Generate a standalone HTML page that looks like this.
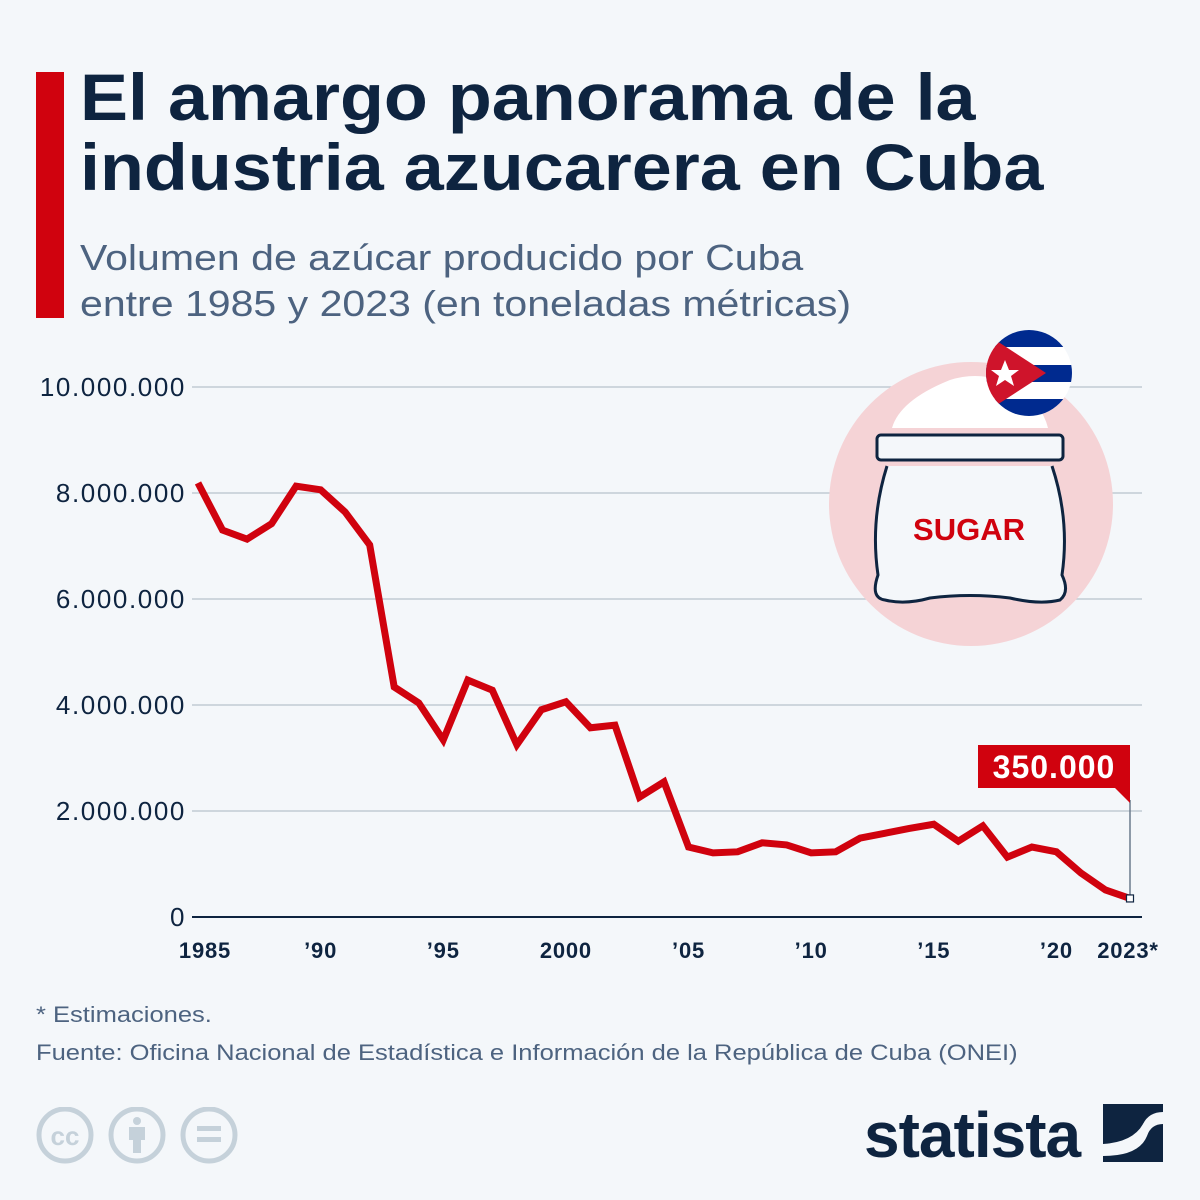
<!DOCTYPE html>
<html><head><meta charset="utf-8">
<style>
html,body{margin:0;padding:0;background:#f4f7fa;}
body{width:1200px;height:1200px;position:relative;overflow:hidden;font-family:"Liberation Sans",sans-serif;}
.bar{position:absolute;left:36px;top:72px;width:28px;height:246px;background:#d0020e;}
h1{position:absolute;left:80px;top:62px;margin:0;font-size:66px;line-height:70px;color:#0e2440;font-weight:bold;transform:scaleX(1.09);transform-origin:left top;white-space:nowrap;}
.sub{position:absolute;left:80px;top:235px;font-size:36px;line-height:46px;color:#4d6380;transform:scaleX(1.14);transform-origin:left top;white-space:nowrap;}
.note{position:absolute;left:36px;font-size:22px;color:#4d6380;transform:scaleX(1.16);transform-origin:left top;white-space:nowrap;}
svg{position:absolute;left:0;top:0;}
</style></head><body>
<div class="bar"></div>
<h1>El amargo panorama de la<br>industria azucarera en Cuba</h1>
<div class="sub">Volumen de azúcar producido por Cuba<br>entre 1985 y 2023 (en toneladas métricas)</div>
<div class="note" style="top:1002px">* Estimaciones.</div>
<div class="note" style="top:1040px">Fuente: Oficina Nacional de Estadística e Información de la República de Cuba (ONEI)</div>
<svg id="chart" width="1200" height="1200">
<g>
<circle cx="971" cy="504" r="142" fill="#f5d3d6"/>
<path d="M892 428 Q900 400 950 380 Q975 372 1000 380 Q1040 396 1048 428 Z" fill="#fff"/>
<rect x="877" y="435" width="186" height="25" rx="4" fill="#f4f7fa" stroke="#0e2440" stroke-width="3"/>
<path d="M887 466 Q870 520 878 575 Q870 598 885 600 Q905 605 930 598 Q970 593 1010 598 Q1040 605 1060 600 Q1070 592 1062 575 Q1070 520 1052 466" fill="#f4f7fa" stroke="#0e2440" stroke-width="3"/>
<text x="969" y="540" text-anchor="middle" font-size="31" font-weight="bold" fill="#d0020e" font-family="Liberation Sans,sans-serif">SUGAR</text>
<clipPath id="fc"><circle cx="1029" cy="373" r="43"/></clipPath>
<g clip-path="url(#fc)">
<rect x="980" y="330" width="100" height="90" fill="#fff"/>
<rect x="980" y="330" width="100" height="17" fill="#002a8f"/>
<rect x="980" y="365" width="100" height="17" fill="#002a8f"/>
<rect x="980" y="399" width="100" height="20" fill="#002a8f"/>
<polygon points="980,330 1046,373 980,416" fill="#cf142b"/>
<polygon points="1005,360 1009,370 1019,370 1011,376 1014,386 1005,380 996,386 999,376 991,370 1001,370" fill="#fff"/>
</g>
</g>
</svg>
<div style="position:absolute;left:36px;top:1107px;">
<svg width="210" height="60" style="position:static">
<circle cx="29" cy="28" r="26" fill="none" stroke="#c5d1da" stroke-width="5"/>
<text x="29" y="38" text-anchor="middle" font-size="26" font-weight="bold" fill="#c5d1da" font-family="Liberation Sans,sans-serif">cc</text>
<circle cx="101" cy="28" r="26" fill="none" stroke="#c5d1da" stroke-width="5"/>
<circle cx="101" cy="14" r="4" fill="#c5d1da"/><rect x="93" y="20" width="16" height="13" fill="#c5d1da"/><rect x="97" y="30" width="8" height="16" fill="#c5d1da"/>
<circle cx="173" cy="28" r="26" fill="none" stroke="#c5d1da" stroke-width="5"/>
<rect x="161" y="19" width="24" height="5" fill="#c5d1da"/><rect x="161" y="30" width="24" height="5" fill="#c5d1da"/>
</svg></div>
<div style="position:absolute;left:864px;top:1098px;font-size:64px;font-weight:bold;color:#0e2440;letter-spacing:-1px;">statista</div>
<svg width="62" height="62" style="left:1103px;top:1104px">
<rect x="0" y="0" width="60" height="58" fill="#0e2440"/>
<path d="M0 40 Q30 38 40 20 Q46 8 60 8 L60 20 Q48 20 44 32 Q36 52 0 52 Z" fill="#f4f7fa"/>
</svg>
<script>
const years=[1985,1986,1987,1988,1989,1990,1991,1992,1993,1994,1995,1996,1997,1998,1999,2000,2001,2002,2003,2004,2005,2006,2007,2008,2009,2010,2011,2012,2013,2014,2015,2016,2017,2018,2019,2020,2021,2022,2023];
const values=[8190000,7300000,7130000,7420000,8130000,8060000,7640000,7020000,4340000,4040000,3340000,4470000,4280000,3250000,3910000,4060000,3570000,3620000,2260000,2550000,1320000,1210000,1230000,1400000,1360000,1210000,1230000,1490000,1580000,1670000,1750000,1430000,1720000,1130000,1320000,1230000,830000,510000,350000];
const yTicks=[0,2000000,4000000,6000000,8000000,10000000];
const yTickLabels=["0","2.000.000","4.000.000","6.000.000","8.000.000","10.000.000"];
const xTicks=[1985,1990,1995,2000,2005,2010,2015,2020,2023];
const xTickLabels=["1985","’90","’95","2000","’05","’10","’15","’20","2023*"];
const lastLabel="350.000";
const NS="http://www.w3.org/2000/svg";
const svg=document.getElementById('chart');
const x=v=>198+(v-1985)*(1130-198)/38;
const y=v=>917-v*530/10000000;
function mk(t,a){const e=document.createElementNS(NS,t);for(const k in a)e.setAttribute(k,a[k]);return e;}
yTicks.forEach((t,i)=>{
  const l=mk('line',{x1:192,x2:1142,y1:y(t),y2:y(t),stroke:t===0?'#0e2440':'#b8c2cc','stroke-width':t===0?2:1.3});
  
  
  svg.insertBefore(l,svg.firstChild);
  const tx=mk('text',{x:186,y:y(t)+9,'text-anchor':'end','font-size':26,'letter-spacing':1.6,fill:'#0e2440','font-family':'Liberation Sans,sans-serif'});
  tx.textContent=yTickLabels[i];
  
  
  svg.appendChild(tx);
});
xTicks.forEach((t,i)=>{
  let xx=x(t);
  if(i===0)xx+=7;
  if(i===xTicks.length-1)xx-=2;
  const tx=mk('text',{x:xx,y:958,'text-anchor':'middle','font-size':22,'letter-spacing':0.8,'font-weight':'bold',fill:'#0e2440','font-family':'Liberation Sans,sans-serif'});
  tx.textContent=xTickLabels[i];
  
  
  svg.appendChild(tx);
});
const pts=years.map((yr,i)=>x(yr)+','+y(values[i])).join(' ');
const line=mk('polyline',{points:pts,fill:'none',stroke:'#d0020e','stroke-width':7,'stroke-linejoin':'miter','stroke-linecap':'butt'});


svg.appendChild(line);
const lx=x(years[years.length-1]),ly=y(values[values.length-1]);
const conn=mk('line',{x1:lx,x2:lx,y1:800,y2:ly,stroke:'#6b7a8c','stroke-width':1.5});


svg.appendChild(conn);
const mark=mk('rect',{x:lx-3.5,y:ly-3.5,width:7,height:7,fill:'#fff',stroke:'#0e2440','stroke-width':1.2});


svg.appendChild(mark);
const box=mk('path',{d:`M${lx-152} 745 L${lx} 745 L${lx} 803 L${lx-15} 788 L${lx-152} 788 Z`,fill:'#d0020e'});


svg.appendChild(box);
const bt=mk('text',{x:lx-76,y:778,'text-anchor':'middle','font-size':32,'letter-spacing':1,'font-weight':'bold',fill:'#fff','font-family':'Liberation Sans,sans-serif'});
bt.textContent=lastLabel;


svg.appendChild(bt);
</script>
</body></html>
